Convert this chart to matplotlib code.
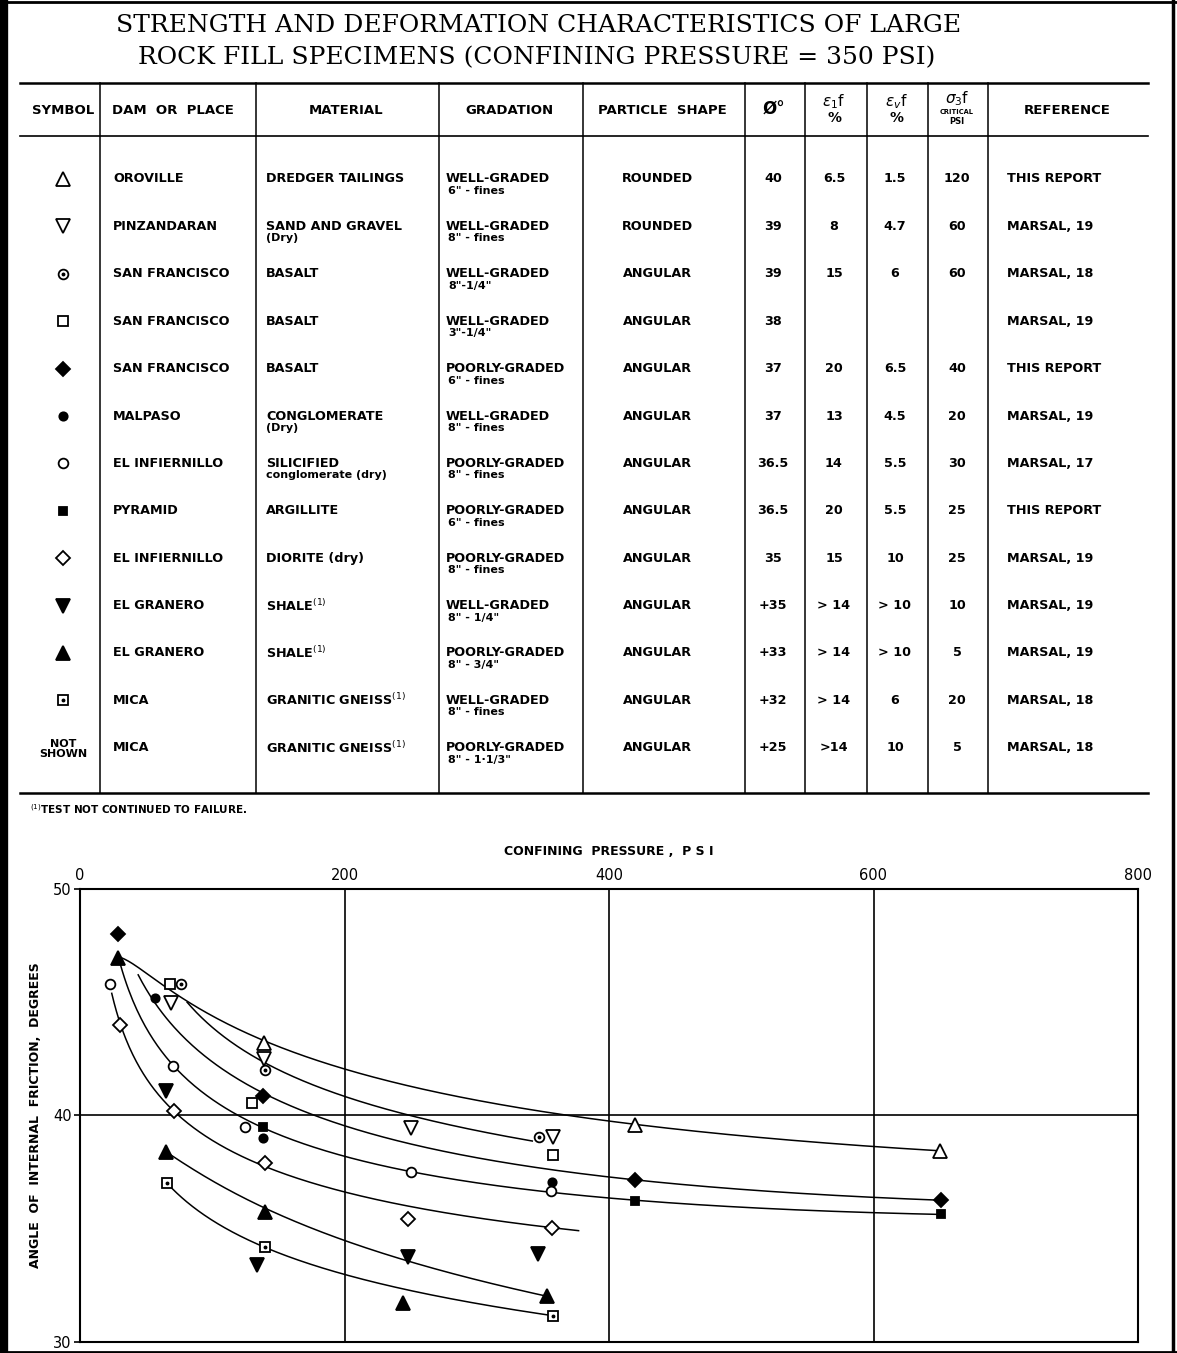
import matplotlib
matplotlib.use("Agg")
import matplotlib.pyplot as plt
import numpy as np

plt.rcParams['font.family'] = ['DejaVu Sans']
plt.rcParams['mathtext.fontset'] = 'dejavusans'

# ---- table data ----
symbols = ['tri_up_o', 'tri_dn_o', 'circ_dot', 'sq_o', 'dia_f', 'circ_f', 'circ_o',
           'sq_f', 'dia_o', 'tri_dn_f', 'tri_up_f', 'sq_dot', None]
dams = ["OROVILLE", "PINZANDARAN", "SAN FRANCISCO", "SAN FRANCISCO", "SAN FRANCISCO",
        "MALPASO", "EL INFIERNILLO", "PYRAMID", "EL INFIERNILLO", "EL GRANERO",
        "EL GRANERO", "MICA", "MICA"]
materials = ["DREDGER TAILINGS", "SAND AND GRAVEL\n(Dry)", "BASALT", "BASALT", "BASALT",
             "CONGLOMERATE\n(Dry)", "SILICIFIED\nconglomerate (dry)", "ARGILLITE",
             "DIORITE (dry)", "SHALE$^{(1)}$", "SHALE$^{(1)}$",
             "GRANITIC GNEISS$^{(1)}$", "GRANITIC GNEISS$^{(1)}$"]
grad_1 = ["WELL-GRADED", "WELL-GRADED", "WELL-GRADED", "WELL-GRADED", "POORLY-GRADED",
          "WELL-GRADED", "POORLY-GRADED", "POORLY-GRADED", "POORLY-GRADED",
          "WELL-GRADED", "POORLY-GRADED", "WELL-GRADED", "POORLY-GRADED"]
grad_2 = ['6" - fines', '8" - fines', '8"-1/4"', '3"-1/4"', '6" - fines', '8" - fines',
          '8" - fines', '6" - fines', '8" - fines', '8" - 1/4"', '8" - 3/4"',
          '8" - fines', '8" - 1·1/3"']
shapes = ["ROUNDED", "ROUNDED"] + ["ANGULAR"] * 11
phi = ["40", "39", "39", "38", "37", "37", "36.5", "36.5", "35", "+35", "+33", "+32", "+25"]
e1f = ["6.5", "8", "15", "", "20", "13", "14", "20", "15", "> 14", "> 14", "> 14", ">14"]
evf = ["1.5", "4.7", "6", "", "6.5", "4.5", "5.5", "5.5", "10", "> 10", "> 10", "6", "10"]
s3f = ["120", "60", "60", "", "40", "20", "30", "25", "25", "10", "5", "20", "5"]
refs = ["THIS REPORT", "MARSAL, 19", "MARSAL, 18", "MARSAL, 19", "THIS REPORT",
        "MARSAL, 19", "MARSAL, 17", "THIS REPORT", "MARSAL, 19", "MARSAL, 19",
        "MARSAL, 19", "MARSAL, 18", "MARSAL, 18"]

# ---- plot data: confining pressure (psi) / friction angle (deg) ----
pts = {
    'tri_up_o': ([139, 420, 650], [43.2, 39.6, 38.44]),
    'tri_dn_o': ([69, 139, 250, 358], [44.97, 42.5, 39.45, 39.05]),
    'circ_dot': ([76, 140, 347], [45.8, 42.0, 39.04]),
    'sq_o': ([68, 130, 358], [45.8, 40.57, 38.24]),
    'dia_f': ([29, 138, 420, 651], [48.0, 40.86, 37.15, 36.26]),
    'circ_f': ([57, 138, 357], [45.17, 39.0, 37.08]),
    'circ_o': ([23, 70, 125, 250, 356], [45.8, 42.2, 39.5, 37.5, 36.68]),
    'sq_f': ([138, 420, 651], [39.5, 36.22, 35.64]),
    'dia_o': ([30, 71, 140, 248, 357], [44.0, 40.2, 37.9, 35.45, 35.02]),
    'tri_dn_f': ([65, 134, 248, 346], [41.1, 33.4, 33.75, 33.9]),
    'tri_up_f': ([29, 65, 140, 244, 353], [46.94, 38.4, 35.75, 31.7, 32.05]),
    'sq_dot': ([66, 140, 358], [37.0, 34.2, 31.15]),
}

# curve knots, with fit weights
curves = [
    ([29, 102, 139, 200, 225, 420, 650], [47.0, 44.4, 43.3, 42.05, 41.55, 39.62, 38.44],
     [4, 1, 2, 1, 1, 3, 4]),
    ([81, 141, 180, 280, 342], [45.0, 42.4, 41.1, 39.7, 38.87], [4, 1, 1, 1, 4]),
    ([44, 57, 91, 138, 180, 280, 357, 420, 650],
     [46.2, 45.2, 42.9, 40.9, 40.0, 38.6, 37.6, 37.15, 36.26], [4, 1, 1, 2, 1, 1, 1, 3, 4]),
    ([29, 53, 70, 120, 180, 250, 356, 420, 650],
     [47.0, 43.55, 42.2, 39.9, 38.75, 37.6, 36.7, 36.22, 35.64], [4, 1, 1, 1, 1, 1, 1, 3, 4]),
    ([24, 30, 71, 140, 180, 248, 357, 377], [45.4, 44.0, 40.2, 37.9, 36.95, 35.8, 35.05, 34.92],
     [4, 1, 1, 1, 1, 1, 1, 4]),
    ([65, 140, 180, 248, 354], [38.4, 35.75, 34.95, 33.8, 32.0], [4, 1, 1, 1, 4]),
    ([66, 140, 180, 359], [37.0, 34.2, 33.3, 31.15], [4, 1, 1, 4]),
]

style = {
    'tri_up_o': dict(marker='^', mfc='white', ms=10),
    'tri_dn_o': dict(marker='v', mfc='white', ms=10),
    'circ_dot': dict(marker='o', mfc='white', ms=7),
    'sq_o': dict(marker='s', mfc='white', ms=7),
    'dia_f': dict(marker='D', mfc='black', ms=7),
    'circ_f': dict(marker='o', mfc='black', ms=6),
    'circ_o': dict(marker='o', mfc='white', ms=7),
    'sq_f': dict(marker='s', mfc='black', ms=6),
    'dia_o': dict(marker='D', mfc='white', ms=7),
    'tri_dn_f': dict(marker='v', mfc='black', ms=10),
    'tri_up_f': dict(marker='^', mfc='black', ms=10),
    'sq_dot': dict(marker='s', mfc='white', ms=7),
}


def draw_marker(ax, x, y, key):
    ax.plot(x, y, ls='none', mec='black', mew=1.3, zorder=5, **style[key])
    if key in ('circ_dot', 'sq_dot'):
        ax.plot(x, y, ls='none', marker='o', ms=1.8, color='black', zorder=6)


def basis(x):
    cols = [np.ones_like(x), np.log(x), 1 / x]
    return np.column_stack(cols)


def smooth_fit(xk, yk, wk, xs):
    # weighted least squares on 1, ln x, 1/x, plus a linear term for long curves
    A = basis(xk)
    B = basis(xs)
    if len(xk) >= 7:
        A = np.column_stack([A, xk / 100])
        B = np.column_stack([B, xs / 100])
    coef, *_ = np.linalg.lstsq(A * wk[:, None], yk * wk, rcond=None)
    return B @ coef


W, H = 1177, 1353
fig = plt.figure(figsize=(W / 100, H / 100), dpi=100)

# overlay in pixel coordinates for title and table
tab = fig.add_axes([0, 0, 1, 1])
tab.set_xlim(0, W)
tab.set_ylim(H, 0)
tab.axis('off')

# page border
tab.plot([4, 4], [0, H], color='black', lw=6)
tab.plot([0, W], [2, 2], color='black', lw=2)
tab.plot([W - 4, W - 4], [0, H], color='black', lw=2.5)
tab.plot([0, W], [H - 1, H - 1], color='black', lw=2)

tab.text(539, 26, "STRENGTH AND DEFORMATION CHARACTERISTICS OF LARGE",
         family='DejaVu Serif', fontsize=18, ha='center', va='center')
tab.text(537, 58, "ROCK FILL SPECIMENS (CONFINING PRESSURE = 350 PSI)",
         family='DejaVu Serif', fontsize=18, ha='center', va='center')

# grid lines of table
x_left, x_right = 20, 1148
y_top, y_head, y_bot = 83, 136, 793
tab.plot([x_left, x_right], [y_top, y_top], color='black', lw=1.8)
tab.plot([x_left, x_right], [y_head, y_head], color='black', lw=1.2)
tab.plot([x_left, x_right], [y_bot, y_bot], color='black', lw=1.8)
for xv in [100, 256, 439, 583, 745, 805, 867, 928, 988]:
    tab.plot([xv, xv], [y_top, y_bot], color='black', lw=1.1)

hfs = 9.5
hy = 110
tab.text(63, hy, "SYMBOL", fontsize=hfs, weight='bold', ha='center', va='center')
tab.text(112, hy, "DAM  OR  PLACE", fontsize=hfs, weight='bold', ha='left', va='center')
tab.text(346, hy, "MATERIAL", fontsize=hfs, weight='bold', ha='center', va='center')
tab.text(509, hy, "GRADATION", fontsize=hfs, weight='bold', ha='center', va='center')
tab.text(662, hy, "PARTICLE  SHAPE", fontsize=hfs, weight='bold', ha='center', va='center')
tab.text(774, hy, "Ø°", fontsize=12, weight='bold', ha='center', va='center')
tab.text(834, hy - 8, r"$\varepsilon_1$f", fontsize=11, ha='center', va='center')
tab.text(834, hy + 8, "%", fontsize=10, weight='bold', ha='center', va='center')
tab.text(896, hy - 8, r"$\varepsilon_v$f", fontsize=11, ha='center', va='center')
tab.text(896, hy + 8, "%", fontsize=10, weight='bold', ha='center', va='center')
tab.text(957, hy - 11, r"$\sigma_3$f", fontsize=11, ha='center', va='center')
tab.text(957, hy + 2, "CRITICAL", fontsize=4.8, weight='bold', ha='center', va='center')
tab.text(957, hy + 12, "PSI", fontsize=6, weight='bold', ha='center', va='center')
tab.text(1067, hy, "REFERENCE", fontsize=hfs, weight='bold', ha='center', va='center')

fs = 9.2
fs2 = 8
row_y0, row_dy = 179, 47.4
for i in range(len(dams)):
    y = row_y0 + i * row_dy
    if symbols[i] is None:
        tab.text(63, y + 1, "NOT\nSHOWN", fontsize=8, weight='bold', ha='center',
                 va='center', linespacing=0.95)
    else:
        draw_marker(tab, 63, y, symbols[i])
    tab.text(113, y, dams[i], fontsize=fs, weight='bold', ha='left', va='center')
    mlines = materials[i].split('\n')
    tab.text(266, y, mlines[0], fontsize=fs, weight='bold', ha='left', va='center')
    if len(mlines) > 1:
        tab.text(266, y + 12, mlines[1], fontsize=fs2, weight='bold', ha='left', va='center')
    tab.text(446, y, grad_1[i], fontsize=fs, weight='bold', ha='left', va='center')
    tab.text(448, y + 12, grad_2[i], fontsize=fs2, weight='bold', ha='left', va='center')
    tab.text(657, y, shapes[i], fontsize=fs, weight='bold', ha='center', va='center')
    tab.text(773, y, phi[i], fontsize=fs, weight='bold', ha='center', va='center')
    tab.text(834, y, e1f[i], fontsize=fs, weight='bold', ha='center', va='center')
    tab.text(895, y, evf[i], fontsize=fs, weight='bold', ha='center', va='center')
    tab.text(957, y, s3f[i], fontsize=fs, weight='bold', ha='center', va='center')
    tab.text(1007, y, refs[i], fontsize=fs, weight='bold', ha='left', va='center')

tab.text(30, 809, "$^{(1)}$TEST NOT CONTINUED TO FAILURE.", fontsize=7.5, weight='bold',
         ha='left', va='center')

# ---- chart ----
ax = fig.add_axes([80 / W, 1 - 1342 / H, (1138 - 80) / W, (1342 - 889) / H])
ax.set_xlim(0, 800)
ax.set_ylim(30, 50)
ax.patch.set_alpha(0)
for sp in ax.spines.values():
    sp.set_linewidth(1.5)
ax.xaxis.tick_top()
ax.xaxis.set_label_position('top')
ax.set_xticks([0, 200, 400, 600, 800])
ax.set_yticks([30, 40, 50])
ax.tick_params(axis='x', length=0, pad=4, labelsize=10.5)
ax.tick_params(axis='y', length=4, width=1.2, direction='out', pad=2, labelsize=10.5)
for xv in [200, 400, 600]:
    ax.axvline(xv, color='black', lw=1.2)
ax.axhline(40, color='black', lw=1.2)
ax.set_xlabel("CONFINING  PRESSURE ,  P S I", fontsize=9, weight='bold', labelpad=10)
ax.set_ylabel("ANGLE  OF  INTERNAL  FRICTION,  DEGREES", fontsize=9, weight='bold',
              labelpad=8)

for xk, yk, wk in curves:
    xk = np.asarray(xk, float)
    yk = np.asarray(yk, float)
    wk = np.asarray(wk, float)
    xs = np.linspace(xk[0], xk[-1], 400)
    ax.plot(xs, smooth_fit(xk, yk, wk, xs), color='black', lw=1.1, zorder=3)

for key, (xv, yv) in pts.items():
    draw_marker(ax, xv, yv, key)

fig.savefig("out.png", dpi=100)
